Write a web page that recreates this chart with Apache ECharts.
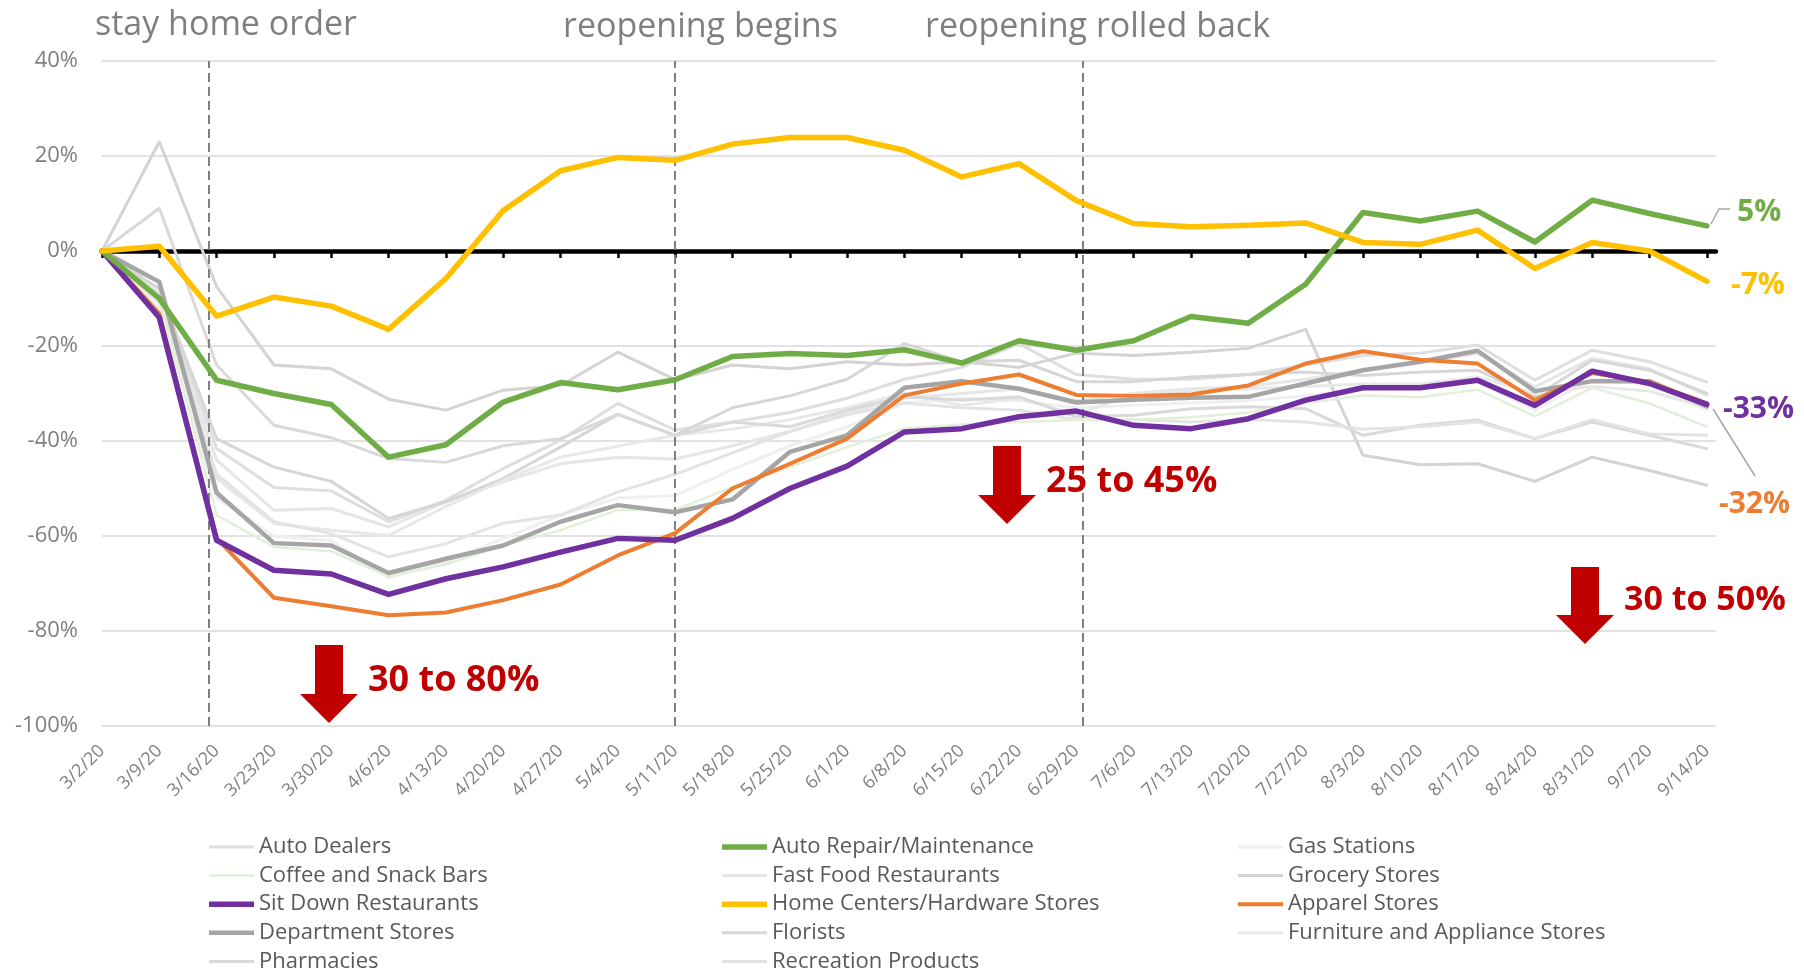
<!DOCTYPE html>
<html>
<head>
<meta charset="utf-8">
<title>Weekly spending change by category</title>
<script src="https://cdn.jsdelivr.net/npm/echarts@6/dist/echarts.min.js"></script>
<style>
  html, body { margin: 0; padding: 0; background: #fff; }
  #chart { width: 1804px; height: 976px; }
</style>
</head>
<body>
<div id="chart"></div>
<script>
  // week starting dates (x axis)
  var weeks = ['3/2/20', '3/9/20', '3/16/20', '3/23/20', '3/30/20', '4/6/20', '4/13/20', '4/20/20',
    '4/27/20', '5/4/20', '5/11/20', '5/18/20', '5/25/20', '6/1/20', '6/8/20', '6/15/20', '6/22/20',
    '6/29/20', '7/6/20', '7/13/20', '7/20/20', '7/27/20', '8/3/20', '8/10/20', '8/17/20', '8/24/20',
    '8/31/20', '9/7/20', '9/14/20'];

  // % change
  var autoDealers = [0, -9, -41.6, -49.8, -50.5, -57, -52.5, -45.8, -39.8, -32.1, -37.7, -36, -34, -31, -27, -24.5, -19.5, -26, -27, -27, -26, -24, -22, -21.5, -19.8, -27.2, -20.9, -23.3, -27.6];
  var autoRepair = [0, -10, -27.2, -30, -32.3, -43.4, -40.8, -31.8, -27.7, -29.2, -27.1, -22.2, -21.6, -22, -20.8, -23.6, -18.9, -20.9, -18.9, -13.8, -15.2, -7, 8.1, 6.3, 8.4, 1.9, 10.7, 7.9, 5.3];
  var gasStations = [0, -12, -52, -60, -61, -68.8, -65.5, -60.5, -55.6, -52, -51.5, -46, -41, -37, -32, -31, -31.5, -33, -32.5, -32, -31.5, -30.5, -29, -28.5, -27.5, -33.5, -27, -28, -33.5];
  var coffeeSnack = [0, -10, -55.6, -62.3, -63.2, -68.5, -66, -62, -58.8, -54.5, -54.5, -49.7, -45.5, -41.3, -37.4, -36.5, -36, -35.6, -35.5, -35, -34, -32, -30.4, -30.8, -29.2, -34.8, -28.8, -32.1, -37];
  var fastFood = [0, -10, -44, -54.6, -54.2, -58.1, -52.8, -48.6, -44.8, -43.4, -43.8, -41, -38, -34, -31, -30, -29, -31.5, -30, -29, -28.5, -27, -25, -23.5, -21.6, -28.6, -22.6, -24.8, -30.4];
  var grocery = [0, 23, -7.5, -24, -24.8, -31.2, -33.5, -29.3, -28.3, -21.3, -27.1, -24, -24.8, -23.3, -24, -23.3, -24.5, -21.5, -22, -21.3, -20.5, -16.5, -43, -45, -44.8, -48.5, -43.4, -46.2, -49.3];
  var sitDown = [0, -14, -60.9, -67.2, -68, -72.3, -69, -66.5, -63.4, -60.5, -60.9, -56.3, -50, -45.3, -38.1, -37.4, -34.9, -33.7, -36.7, -37.4, -35.3, -31.4, -28.8, -28.8, -27.2, -32.5, -25.3, -27.9, -32.3];
  var homeCenters = [0, 1, -13.7, -9.7, -11.6, -16.5, -5.8, 8.5, 16.9, 19.7, 19.1, 22.5, 23.9, 23.9, 21.2, 15.6, 18.4, 10.6, 5.8, 5.1, 5.4, 5.9, 1.8, 1.4, 4.4, -3.7, 1.8, 0, -6.4];
  var apparel = [0, -13.2, -60.5, -73, -74.8, -76.7, -76.1, -73.5, -70.2, -64.1, -59.4, -50, -44.8, -39.5, -30.4, -27.9, -26, -30.3, -30.5, -30.2, -28.3, -23.7, -21.1, -22.9, -23.7, -31.4, -25.7, -27.6, -32.1];
  var department = [0, -6.5, -50.9, -61.5, -62, -67.8, -64.8, -62, -57, -53.5, -55, -52.3, -42.3, -38.8, -28.8, -27.4, -29, -31.9, -31.3, -30.9, -30.7, -27.9, -25.1, -23.3, -21, -29.5, -27.4, -27.4, -32.7];
  var florists = [0, -8, -39.5, -45.5, -48.5, -56.3, -52.8, -47.9, -41.3, -34.4, -38.8, -33, -30.5, -27, -19.5, -23.3, -23, -27.5, -27.5, -26.5, -26, -25.5, -26.2, -25.5, -25.1, -30.7, -23, -25.1, -30];
  var furniture = [0, -11, -47.9, -57.4, -58.8, -59.9, -53.8, -48.3, -43.4, -41.1, -38.8, -37.5, -35.5, -33, -30, -32.5, -31, -34.5, -30, -29.5, -29, -28.5, -28, -28, -26.5, -30, -28.5, -29.5, -33];
  var pharmacies = [0, 9, -24, -36.7, -39.3, -43.7, -44.5, -41, -39.5, -34.4, -38.8, -36, -37, -33.5, -30.7, -31.4, -30.7, -34.9, -34.6, -33.2, -32.8, -33.2, -38.8, -36.7, -35.6, -39.5, -36, -38.8, -41.6];
  var recreation = [0, -9.5, -47, -57, -59.5, -64.4, -61.6, -57.3, -55.6, -50.7, -47, -42.5, -38, -34.5, -32, -33, -33.5, -35.5, -35.5, -36, -35.5, -36, -37.5, -37, -36, -39.5, -35.5, -38.5, -38.8];

  // events, as positions on the week axis
  var eventAt = [1.86, 10, 17.12];

  var font = 'Open Sans';

  var lines = [
    {name: 'Auto Dealers', values: autoDealers, color: '#dedede', width: 3, z: 2},
    {name: 'Auto Repair/Maintenance', values: autoRepair, color: '#70ad47', width: 5.5, z: 8},
    {name: 'Gas Stations', values: gasStations, color: '#efefef', width: 3, z: 2},
    {name: 'Coffee and Snack Bars', values: coffeeSnack, color: '#e2efda', width: 2.5, z: 3},
    {name: 'Fast Food Restaurants', values: fastFood, color: '#e6e6e6', width: 3, z: 2},
    {name: 'Grocery Stores', values: grocery, color: '#d3d3d3', width: 3, z: 2},
    {name: 'Sit Down Restaurants', values: sitDown, color: '#7030a0', width: 5.5, z: 7},
    {name: 'Home Centers/Hardware Stores', values: homeCenters, color: '#ffc000', width: 5.5, z: 9},
    {name: 'Apparel Stores', values: apparel, color: '#ed7d31', width: 4, z: 6},
    {name: 'Department Stores', values: department, color: '#a5a5a5', width: 4.5, z: 5},
    {name: 'Florists', values: florists, color: '#d6d6d6', width: 3, z: 2},
    {name: 'Furniture and Appliance Stores', values: furniture, color: '#e8e8e8', width: 3, z: 2},
    {name: 'Pharmacies', values: pharmacies, color: '#d9d9d9', width: 3, z: 2},
    {name: 'Recreation Products', values: recreation, color: '#e3e3e3', width: 3, z: 2}
  ];

  var chart = echarts.init(document.getElementById('chart'));

  var series = [];
  var byName = {};
  lines.forEach(function (s) {
    byName[s.name] = s;
    series.push({
      name: s.name,
      type: 'line',
      xAxisIndex: 0,
      symbol: 'none',
      z: s.z,
      data: s.values.map(function (v, i) { return [i, v]; }),
      lineStyle: {color: s.color, width: s.width, cap: 'round', join: 'round'},
      itemStyle: {color: s.color},
      emphasis: {disabled: true}
    });
  });

  // dashed event lines
  series.push({
    type: 'line',
    data: [],
    z: 10,
    silent: true,
    markLine: {
      symbol: 'none',
      silent: true,
      label: {show: false},
      lineStyle: {color: '#7f7f7f', type: [9, 5], width: 2},
      data: eventAt.map(function (x) { return {xAxis: x}; })
    }
  });

  // legend: 3 columns, filled row by row
  var legendCols = [[], [], []];
  lines.forEach(function (s, i) { legendCols[i % 3].push(s.name); });
  var legendLeft = [209, 722, 1238];
  var legends = legendCols.map(function (names, c) {
    return {
      left: legendLeft[c],
      top: 836,
      padding: 0,
      height: 140,
      orient: 'vertical',
      itemWidth: 45,
      itemHeight: 14,
      itemGap: 6.6,
      selectedMode: false,
      textStyle: {fontFamily: font, fontSize: 22, color: '#595959', lineHeight: 22},
      data: names.map(function (n) {
        var w = byName[n].width;
        return {name: n, icon: 'path://M0 0H45V' + w + 'H0Z', itemStyle: {color: byName[n].color}};
      })
    };
  });

  var ticks = weeks.map(function (w, i) { return i; });
  var xMax = weeks.length - 1 + 0.16;

  function txt(str, x, y, size, color, bold) {
    return {
      type: 'text', x: x, y: y, z: 100, silent: true,
      style: {
        text: str, fill: color, fontFamily: font, fontSize: size,
        fontWeight: bold ? 'bold' : 'normal', verticalAlign: 'middle'
      }
    };
  }
  function arrow(x, top, tip) {
    // shaft 29 wide, head 58 wide
    return {
      type: 'polygon', z: 100, silent: true,
      shape: {points: [[x - 14, top], [x + 14, top], [x + 14, tip - 29], [x + 29, tip - 29],
        [x, tip], [x - 29, tip - 29], [x - 14, tip - 29]]},
      style: {fill: '#c00000'}
    };
  }

  var options = {
    animation: false,
    backgroundColor: '#fff',
    grid: {left: 102, right: 88, top: 61, bottom: 250, containLabel: false},
    xAxis: [
      {
        type: 'value', min: 0, max: xMax, interval: 1, position: 'bottom',
        axisLine: {show: false, onZero: false}, axisTick: {show: false}, splitLine: {show: false},
        axisLabel: {
          rotate: 45, margin: 22, fontSize: 18, color: '#7f7f7f', fontFamily: font,
          customValues: ticks,
          formatter: function (v) { return Number.isInteger(v) ? weeks[v] : ''; }
        }
      },
      {
        type: 'value', min: 0, max: xMax, interval: 1, position: 'top',
        axisLine: {show: true, onZero: true, lineStyle: {color: '#000', width: 4.5}},
        axisTick: {show: true, inside: true, length: 7, customValues: ticks, lineStyle: {color: '#000', width: 2.5}},
        axisLabel: {show: false},
        splitLine: {show: false}
      }
    ],
    yAxis: {
      type: 'value', min: -100, max: 40, interval: 20,
      axisLine: {show: false}, axisTick: {show: false},
      axisLabel: {formatter: '{value}%', fontSize: 22, color: '#7f7f7f', margin: 24, fontFamily: font},
      splitLine: {lineStyle: {color: '#d9d9d9', width: 1.5}}
    },
    legend: legends,
    series: series,
    graphic: [
      txt('stay home order', 95, 25, 34, '#7f7f7f'),
      txt('reopening begins', 563, 27, 34, '#7f7f7f'),
      txt('reopening rolled back', 925, 27, 34, '#7f7f7f'),
      arrow(329, 645, 723),
      arrow(1007, 446, 524),
      arrow(1585, 567, 644),
      txt('30 to 80%', 368, 681, 36, '#c00000', true),
      txt('25 to 45%', 1046, 482, 36, '#c00000', true),
      txt('30 to 50%', 1624, 600, 34, '#c00000', true),
      txt('5%', 1737, 212, 30, '#70ad47', true),
      txt('-7%', 1731, 285, 30, '#ffc000', true),
      txt('-33%', 1723, 409, 30, '#7030a0', true),
      txt('-32%', 1719, 504, 30, '#ed7d31', true),
      {type: 'polyline', z: 100, silent: true, shape: {points: [[1711, 224], [1719, 209], [1730, 209]]},
        style: {stroke: '#a6a6a6', lineWidth: 1.5, fill: null}},
      {type: 'polyline', z: 100, silent: true, shape: {points: [[1713, 409], [1755, 476]]},
        style: {stroke: '#a6a6a6', lineWidth: 1.5, fill: null}}
    ]
  };
  chart.setOption(options);
</script>
</body>
</html>
